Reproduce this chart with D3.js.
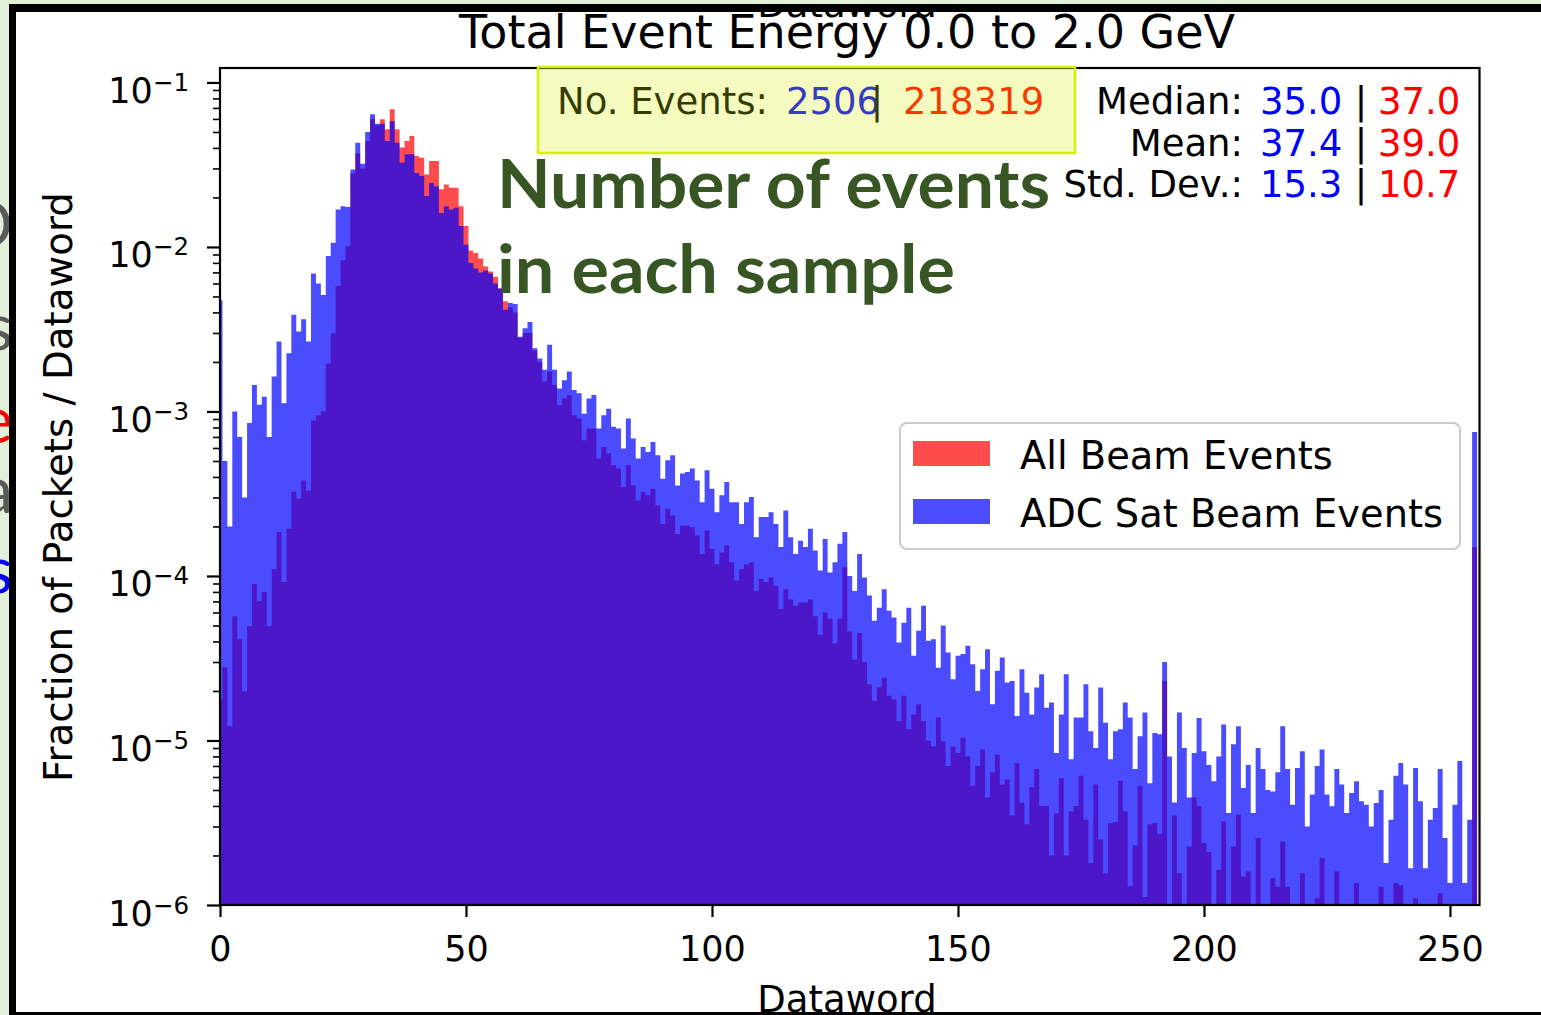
<!DOCTYPE html>
<html>
<head>
<meta charset="utf-8">
<script src="https://cdn.jsdelivr.net/npm/d3@7"></script>
<style>
  body { margin: 0; background: #e2efd9; }
  svg { display: block; }
  text { font-family: "DejaVu Sans", sans-serif; }
</style>
</head>
<body>
<svg width="1541" height="1015"></svg>
<script>

// Fraction of packets per dataword, bins 0..255

// ADC Sat Beam Events (blue)
var adcSat = [
  4.75e-3, 5.0e-4, 2.0e-4, 1.0e-3, 7.0e-4, 3.0e-4, 8.5e-4, 1.45e-3, 1.1e-3, 1.23e-3,
  7.0e-4, 1.63e-3, 2.66e-3, 1.12e-3, 2.26e-3, 3.87e-3, 3.06e-3, 3.64e-3, 2.66e-3, 6.9e-3,
  6.0e-3, 5.1e-3, 8.8e-3, 1.06e-2, 1.69e-2, 1.77e-2, 1.75e-2, 2.96e-2, 4.3e-2, 3.2e-2,
  5.0e-2, 6.4e-2, 5.6e-2, 5.6e-2, 4.4e-2, 5.8e-2, 4.3e-2, 3.25e-2, 3.66e-2, 3.66e-2,
  2.82e-2, 2.7e-2, 2.04e-2, 2.45e-2, 2.34e-2, 1.61e-2, 1.77e-2, 1.69e-2, 1.73e-2, 1.34e-2,
  1.03e-2, 8.0e-3, 7.4e-3, 7.0e-3, 7.2e-3, 6.9e-3, 6.0e-3, 5.6e-3, 4.15e-3, 4.56e-3,
  4.5e-3, 2.85e-3, 3.2e-3, 3.5e-3, 2.42e-3, 2.1e-3, 1.79e-3, 2.54e-3, 1.79e-3, 1.38e-3,
  1.55e-3, 1.75e-3, 1.35e-3, 1.29e-3, 9.7e-4, 1.2e-3, 1.26e-3, 7.87e-4, 9.5e-4, 1.04e-3,
  8.06e-4, 7.87e-4, 5.95e-4, 9.06e-4, 6.85e-4, 5.17e-4, 6.09e-4, 5.68e-4, 6.53e-4, 5.42e-4,
  3.9e-4, 5.05e-4, 5.42e-4, 3.55e-4, 4.19e-4, 4.29e-4, 4.5e-4, 3.81e-4, 2.81e-4, 4.39e-4,
  3.39e-4, 2.44e-4, 3.09e-4, 3.72e-4, 2.81e-4, 2.81e-4, 2.07e-4, 2.81e-4, 3.02e-4, 1.72e-4,
  2.28e-4, 2.28e-4, 2.44e-4, 2.07e-4, 1.5e-4, 2.5e-4, 1.72e-4, 1.36e-4, 1.64e-4, 1.5e-4,
  1.94e-4, 1.43e-4, 1.08e-4, 1.68e-4, 1.05e-4, 1.21e-4, 1.57e-4, 1.85e-4, 1.0e-4, 8.1e-5,
  1.36e-4, 9.8e-5, 7.6e-5, 5.35e-5, 6.4e-5, 8.3e-5, 6.15e-5, 5.6e-5, 3.94e-5, 5.2e-5,
  6.4e-5, 3.27e-5, 4.65e-5, 6.6e-5, 4.04e-5, 4.13e-5, 2.77e-5, 5.0e-5, 3.43e-5, 2.36e-5,
  3.27e-5, 3.35e-5, 3.77e-5, 2.91e-5, 2.0e-5, 2.71e-5, 3.59e-5, 1.66e-5, 2.65e-5, 3.19e-5,
  2.25e-5, 2.3e-5, 1.41e-5, 2.71e-5, 1.95e-5, 1.44e-5, 2.1e-5, 2.53e-5, 1.58e-5, 1.7e-5,
  8.4e-6, 1.44e-5, 2.53e-5, 7.7e-6, 1.38e-5, 1.38e-5, 2.2e-5, 1.14e-5, 9.0e-6, 2.1e-5,
  1.28e-5, 7.7e-6, 1.14e-5, 1.17e-5, 1.7e-5, 1.38e-5, 6.7e-6, 1.06e-5, 1.48e-5, 5.5e-6,
  1.11e-5, 1.09e-5, 3.0e-5, 8.0e-6, 4.2e-6, 1.48e-5, 9.0e-6, 4.5e-6, 8.4e-6, 1.37e-5,
  8.6e-6, 7.1e-6, 5.65e-6, 8.0e-6, 1.25e-5, 3.62e-6, 9.5e-6, 1.22e-5, 5.15e-6, 7.1e-6,
  3.62e-6, 9.0e-6, 6.7e-6, 5.0e-6, 4.9e-6, 6.4e-6, 1.22e-5, 6.7e-6, 4.07e-6, 6.8e-6,
  8.6e-6, 3.0e-6, 4.7e-6, 7.0e-6, 8.8e-6, 4.7e-6, 3.98e-6, 6.7e-6, 5.4e-6, 3.62e-6,
  4.8e-6, 5.65e-6, 4.27e-6, 4.07e-6, 3.0e-6, 4.17e-6, 5.0e-6, 1.8e-6, 3.3e-6, 6.1e-6,
  7.3e-6, 5.4e-6, 1.67e-6, 6.8e-6, 4.27e-6, 1.67e-6, 3.3e-6, 3.89e-6, 6.7e-6, 2.55e-6,
  1.36e-6, 4.07e-6, 7.5e-6, 1.36e-6, 3.3e-6, 7.5e-4
];

// All Beam Events (red)
var allBeam = [
  1.78e-5, 2.79e-5, 1.22e-5, 5.7e-5, 4.13e-5, 1.99e-5, 4.95e-5, 8.93e-5, 7.05e-5, 7.98e-5,
  4.95e-5, 1.1e-4, 1.85e-4, 9.2e-5, 1.94e-4, 3.25e-4, 2.95e-4, 3.8e-4, 3.3e-4, 8.8e-4,
  9.5e-4, 1.0e-3, 1.96e-3, 2.99e-3, 5.78e-3, 8.3e-3, 1.01e-2, 2.8e-2, 3.7e-2, 3.0e-2,
  4.4e-2, 6.0e-2, 5.5e-2, 5.97e-2, 5.19e-2, 6.87e-2, 5.19e-2, 4.02e-2, 4.41e-2, 4.73e-2,
  3.57e-2, 3.49e-2, 2.76e-2, 3.33e-2, 3.33e-2, 2.24e-2, 2.4e-2, 2.29e-2, 2.29e-2, 1.77e-2,
  1.34e-2, 9.5e-3, 9.2e-3, 8.5e-3, 7.6e-3, 7.1e-3, 6.6e-3, 5.6e-3, 4.67e-3, 4.3e-3,
  4.0e-3, 2.8e-3, 3.0e-3, 3.0e-3, 2.35e-3, 2.0e-3, 1.52e-3, 1.75e-3, 1.45e-3, 1.09e-3,
  1.2e-3, 1.26e-3, 9.5e-4, 9.06e-4, 6.69e-4, 7.87e-4, 7.87e-4, 5.17e-4, 6.09e-4, 5.55e-4,
  4.71e-4, 4.5e-4, 3.47e-4, 4.71e-4, 3.55e-4, 2.88e-4, 3.24e-4, 3.09e-4, 3.39e-4, 2.68e-4,
  2.07e-4, 2.56e-4, 2.33e-4, 1.8e-4, 2.03e-4, 2.03e-4, 1.98e-4, 1.76e-4, 1.36e-4, 1.89e-4,
  1.46e-4, 1.18e-4, 1.39e-4, 1.53e-4, 1.21e-4, 9.4e-5, 1.1e-4, 1.18e-4, 1.21e-4, 8.1e-5,
  9.6e-5, 9.2e-5, 9.8e-5, 8.7e-5, 6.3e-5, 8.3e-5, 7.2e-5, 6.6e-5, 6.9e-5, 6.9e-5,
  7.2e-5, 5.7e-5, 4.4e-5, 6.0e-5, 5.5e-5, 3.9e-5, 5.5e-5, 1.13e-4, 4.6e-5, 3.1e-5,
  4.5e-5, 3.0e-5, 2.2e-5, 1.74e-5, 2.1e-5, 2.41e-5, 1.87e-5, 1.78e-5, 1.31e-5, 1.87e-5,
  1.17e-5, 1.44e-5, 1.66e-5, 1.31e-5, 1.0e-5, 9.2e-6, 1.38e-5, 9.9e-6, 7.0e-6, 9.2e-6,
  8.4e-6, 1.04e-5, 8.0e-6, 5.3e-6, 7.0e-6, 8.8e-6, 4.5e-6, 6.4e-6, 8.2e-6, 5.4e-6,
  5.8e-6, 3.5e-6, 7.3e-6, 4.2e-6, 3.1e-6, 5.2e-6, 6.7e-6, 4.0e-6, 4.0e-6, 2.0e-6,
  3.6e-6, 5.9e-6, 2.0e-6, 3.7e-6, 4.0e-6, 6.1e-6, 3.3e-6, 1.8e-6, 5.4e-6, 2.5e-6,
  1.56e-6, 3.15e-6, 3.2e-6, 5.7e-6, 3.7e-6, 1.3e-6, 2.3e-6, 5.3e-6, 1.12e-6, 3.1e-6,
  3.15e-6, 2.7e-6, 2.3e-5, 0, 3.5e-6, 1.56e-6, 0, 2.27e-6, 4.5e-6, 4.0e-6,
  2.38e-6, 2.1e-6, 0, 1.64e-6, 3.22e-6, 0, 2.27e-6, 3.54e-6, 1.49e-6, 1.6e-6,
  0, 2.55e-6, 0, 0, 1.46e-6, 1.29e-6, 2.43e-6, 1.29e-6, 0, 0,
  1.56e-6, 0, 0, 1.1e-6, 1.93e-6, 0, 0, 1.6e-6, 0, 0,
  0, 1.36e-6, 0, 0, 0, 0, 1.29e-6, 0, 0, 1.36e-6,
  1.32e-6, 0, 0, 1.1e-6, 0, 0, 0, 0, 1.18e-6, 0,
  0, 0, 0, 0, 0, 1.5e-4
];

var seriesNames = ["All Beam Events", "ADC Sat Beam Events"];
var seriesColors = ["#ff0000", "#0000ff"];

var xTicks = [0, 50, 100, 150, 200, 250];
var yMajor = [1e-6, 1e-5, 1e-4, 1e-3, 1e-2, 1e-1];

var statLabels = ["Median:", "Mean:", "Std. Dev.:"];
var statAdc = ["35.0", "37.4", "15.3"];
var statAll = ["37.0", "39.0", "10.7"];
var nEvents = ["2506", "218319"];

//###############################################
// setup
//###############################################
var svg = d3.select("svg");
var W = 1541, H = 1015;

svg.append("rect").attr("width", W).attr("height", H).attr("fill", "#e2efd9");

// bits of slide text sticking out on the left
var frag = svg.append("g").attr("font-size", 64).attr("text-anchor", "end");
[["O", 247, "#595959"], ["s", 350, "#595959"], ["e", 443, "#ff0000"], ["a", 513, "#595959"], ["s", 593, "#0000ff"]]
  .forEach(function(f) {
    frag.append("text").attr("x", 13).attr("y", f[1]).attr("fill", f[2])
      .style("font-family", "Lato, sans-serif").text(f[0]);
  });

svg.append("rect").attr("x", 9).attr("y", 4).attr("width", W - 9).attr("height", H - 4).attr("fill", "#ffffff");

var x = d3.scaleLinear().domain([0, 256]).range([220, 1479.5]);
var y = d3.scaleLog().domain([1e-6, 0.1224]).range([905, 68]);

svg.append("clipPath").attr("id", "plotclip")
  .append("rect").attr("x", x(0)).attr("y", y.range()[1])
  .attr("width", x(256) - x(0)).attr("height", y.range()[0] - y.range()[1]);

// one step outline per series
function histPath(vals) {
  var base = y.range()[0] + 4;
  var d = "M" + x(0) + "," + base;
  vals.forEach(function(v, k) {
    var top = v > 0 ? y(v) : base;
    d += "V" + top + "H" + x(Math.min(256, k + 0.5));
  });
  return d + "V" + base + "Z";
}

var bars = svg.append("g").attr("clip-path", "url(#plotclip)");
[allBeam, adcSat].forEach(function(vals, i) {
  bars.append("path")
    .attr("d", histPath(vals))
    .attr("fill", seriesColors[i])
    .attr("fill-opacity", 0.7);
});

//###############################################
// axes
//###############################################
var gx = svg.append("g").attr("transform", "translate(0," + y.range()[0] + ")")
  .call(d3.axisBottom(x).tickValues(xTicks).tickSize(12).tickPadding(19).tickFormat(d3.format("d")));
gx.select(".domain").remove();
gx.selectAll("line").attr("stroke", "#000").attr("stroke-width", 2.2);
gx.selectAll("text").attr("font-size", 35).attr("fill", "#000").style("font-family", "DejaVu Sans");

var yMinor = [];
yMajor.slice(0, -1).forEach(function(v) { d3.range(2, 10).forEach(function(m) { yMinor.push(v * m); }); });
yMinor = yMinor.filter(function(v) { return v <= y.domain()[1]; });

var gyMinor = svg.append("g").attr("transform", "translate(" + x(0) + ",0)")
  .call(d3.axisLeft(y).tickValues(yMinor).tickSize(7).tickFormat(""));
gyMinor.select(".domain").remove();
gyMinor.selectAll("line").attr("stroke", "#000").attr("stroke-width", 1.6);

var gy = svg.append("g").attr("transform", "translate(" + x(0) + ",0)")
  .call(d3.axisLeft(y).tickValues(yMajor).tickSize(13).tickFormat(""));
gy.select(".domain").remove();
gy.selectAll("line").attr("stroke", "#000").attr("stroke-width", 2.2);

yMajor.forEach(function(v) {
  var t = svg.append("text").attr("x", 189).attr("y", y(v) + 20.5)
    .attr("text-anchor", "end").attr("font-size", 35).attr("fill", "#000");
  t.append("tspan").text("10");
  t.append("tspan").attr("dy", -12).attr("font-size", 24.5).text("\u2212" + Math.round(-Math.log10(v)));
});

// frame
svg.append("rect")
  .attr("x", x(0)).attr("y", y.range()[1])
  .attr("width", x(256) - x(0)).attr("height", y.range()[0] - y.range()[1])
  .attr("fill", "none").attr("stroke", "#000").attr("stroke-width", 2.2);

svg.append("text").attr("transform", "translate(72,487) rotate(-90)")
  .attr("text-anchor", "middle").attr("font-size", 38.8).attr("fill", "#000")
  .text("Fraction of Packets / Dataword");

svg.append("text").attr("x", 847).attr("y", 1012)
  .attr("text-anchor", "middle").attr("font-size", 37).attr("fill", "#000")
  .text("Dataword");

svg.append("text").attr("x", 847).attr("y", 48)
  .attr("text-anchor", "middle").attr("font-size", 46).attr("fill", "#000")
  .text("Total Event Energy 0.0 to 2.0 GeV");

// cut off x label of the plot above
svg.append("text").attr("x", 847).attr("y", 17)
  .attr("text-anchor", "middle").attr("font-size", 37).attr("fill", "#000")
  .text("Dataword");

//###############################################
// stats
//###############################################
var st = svg.append("g").attr("font-size", 37);
statLabels.forEach(function(lab, i) {
  var yy = 114 + i * 41.5;
  st.append("text").attr("x", 1243).attr("y", yy).attr("text-anchor", "end").attr("fill", "#000").text(lab);
  st.append("text").attr("x", 1260).attr("y", yy).attr("fill", seriesColors[1]).text(statAdc[i]);
  st.append("text").attr("x", 1361).attr("y", yy).attr("text-anchor", "middle").attr("fill", "#000").text("|");
  st.append("text").attr("x", 1378).attr("y", yy).attr("fill", seriesColors[0]).text(statAll[i]);
});

st.append("text").attr("x", 557).attr("y", 114).attr("fill", "#000").text("No. Events:");
st.append("text").attr("x", 786).attr("y", 114).attr("fill", seriesColors[1]).text(nEvents[0]);
st.append("text").attr("x", 877).attr("y", 114).attr("text-anchor", "middle").attr("fill", "#000").text("|");
st.append("text").attr("x", 903).attr("y", 114).attr("fill", seriesColors[0]).text(nEvents[1]);

// highlighter box from the slide
svg.append("rect").attr("x", 538).attr("y", 67).attr("width", 537).attr("height", 86)
  .attr("fill", "#d6f000").attr("fill-opacity", 0.25)
  .attr("stroke", "#d6f000").attr("stroke-width", 2.5);

//###############################################
// legend
//###############################################
var lg = svg.append("g");
lg.append("rect").attr("x", 900).attr("y", 423).attr("width", 560).attr("height", 126).attr("rx", 7)
  .attr("fill", "#fff").attr("fill-opacity", 0.8).attr("stroke", "#cccccc").attr("stroke-width", 2);
seriesNames.forEach(function(name, i) {
  var yy = 441 + i * 58;
  lg.append("rect").attr("x", 913).attr("y", yy).attr("width", 77).attr("height", 25)
    .attr("fill", seriesColors[i]).attr("fill-opacity", 0.7);
  lg.append("text").attr("x", 1020).attr("y", yy + 28).attr("font-size", 38.4).attr("fill", "#000").text(name);
});

// slide annotation
var note = svg.append("g").attr("fill", "#375623").attr("font-weight", 700).attr("font-size", 66);
note.append("text").attr("x", 497).attr("y", 208).attr("textLength", 553)
  .attr("lengthAdjust", "spacingAndGlyphs").style("font-family", "Lato, sans-serif").text("Number of events");
note.append("text").attr("x", 497).attr("y", 293).attr("textLength", 458)
  .attr("lengthAdjust", "spacingAndGlyphs").style("font-family", "Lato, sans-serif").text("in each sample");

// picture border
svg.append("rect").attr("x", 9).attr("y", 0).attr("width", W - 9).attr("height", 4).attr("fill", "#e2efd9");
svg.append("rect").attr("x", 9).attr("y", 4).attr("width", W - 9).attr("height", 8).attr("fill", "#000");
svg.append("rect").attr("x", 9).attr("y", 4).attr("width", 7).attr("height", H - 4).attr("fill", "#000");
svg.append("rect").attr("x", 9).attr("y", 1012).attr("width", W - 9).attr("height", 3).attr("fill", "#000");

</script>
</body>
</html>
